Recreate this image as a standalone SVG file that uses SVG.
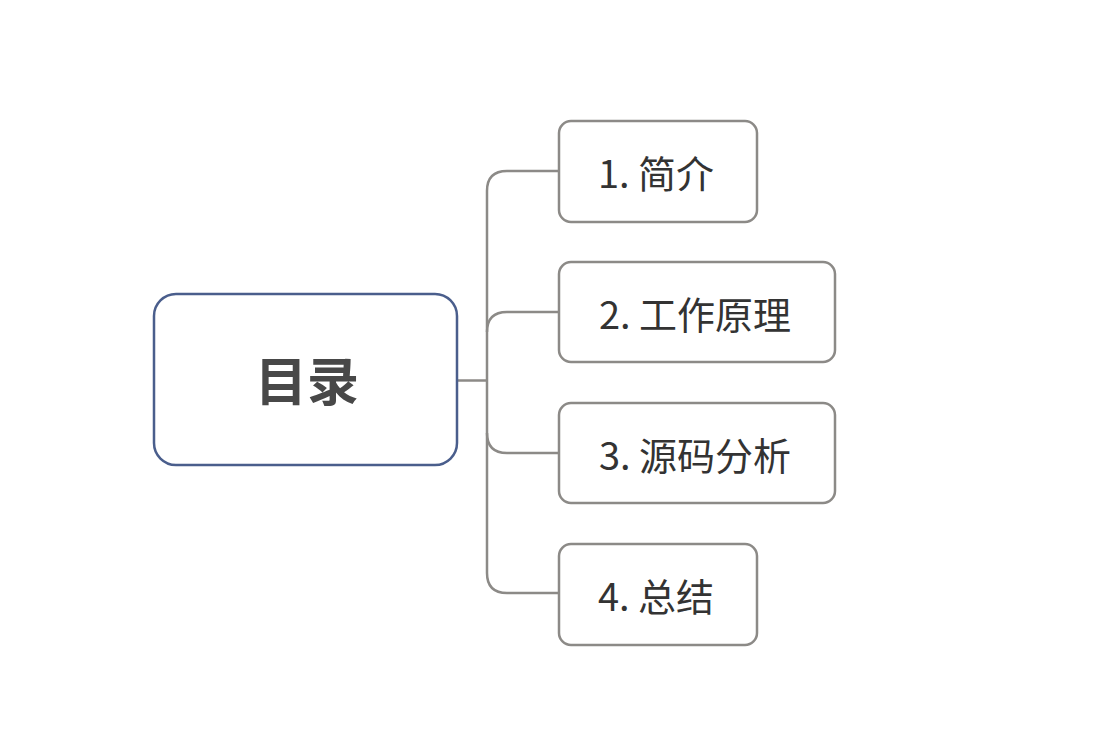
<svg xmlns="http://www.w3.org/2000/svg" width="1100" height="734" viewBox="0 0 1100 734">
<style>
.root{fill:#fff;stroke:#4a5e8c;stroke-width:2.5}
.child{fill:#fff;stroke:#8c8a87;stroke-width:2.5}
.conn{fill:none;stroke:#8c8a87;stroke-width:2.5}
.t{font-family:"Noto Sans CJK SC","Noto Sans",sans-serif;fill:#333;font-size:38px;text-anchor:middle}
.rt{font-family:"Noto Sans CJK SC","Noto Sans",sans-serif;fill:#484848;font-size:52px;font-weight:bold;text-anchor:middle}
</style>
<rect width="1100" height="734" fill="#fff"/>
<g id="connectors">
<path class="conn" d="M457,380.5 H487"/>
<path class="conn" d="M558,171 H507 Q487,171 487,191 V573 Q487,593 507,593 H558"/>
<path class="conn" d="M558,312 H507 Q487,312 487,332"/>
<path class="conn" d="M558,453 H507 Q487,453 487,433"/>
</g>
<g id="root">
<rect class="root" x="154" y="294" width="303" height="171" rx="22"/>
<text class="rt" x="307" y="401">目录</text>
</g>
<g id="n1">
<rect class="child" x="559" y="121" width="198" height="101" rx="12"/>
<text class="t" x="656" y="188">1. 简介</text>
</g>
<g id="n2">
<rect class="child" x="559" y="262" width="276" height="100" rx="12"/>
<text class="t" x="695" y="329">2. 工作原理</text>
</g>
<g id="n3">
<rect class="child" x="559" y="403" width="276" height="100" rx="12"/>
<text class="t" x="695" y="470">3. 源码分析</text>
</g>
<g id="n4">
<rect class="child" x="559" y="544" width="198" height="101" rx="12"/>
<text class="t" x="656" y="611">4. 总结</text>
</g>
</svg>
